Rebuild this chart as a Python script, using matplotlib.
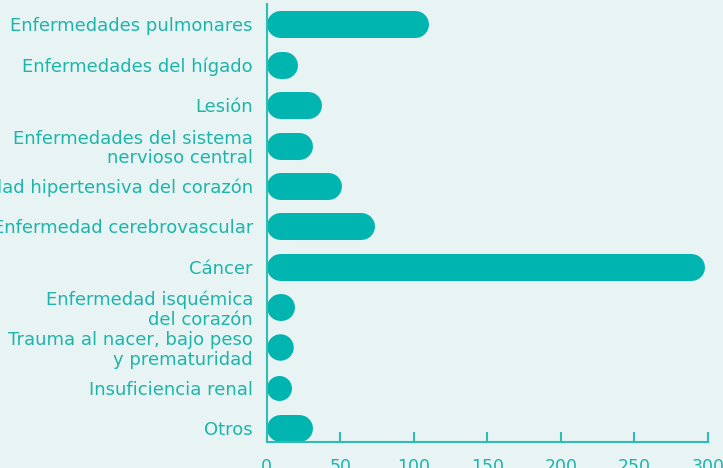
import matplotlib
matplotlib.use("Agg")
import matplotlib.pyplot as plt
import numpy as np

# datos (de arriba a abajo)
causas = [
    "Enfermedades pulmonares",
    "Enfermedades del hígado",
    "Lesión",
    "Enfermedades del sistema\nnervioso central",
    "Enfermedad hipertensiva del corazón",
    "Enfermedad cerebrovascular",
    "Cáncer",
    "Enfermedad isquémica\ndel corazón",
    "Trauma al nacer, bajo peso\ny prematuridad",
    "Insuficiencia renal",
    "Otros",
]
valores = [110, 21, 37, 31, 51, 73, 298, 19, 18, 17, 31]
ticks_x = [0, 50, 100, 150, 200, 250, 300]

bg = "#e8f4f4"
bar_color = "#00b5b0"
txt_color = "#1db4aa"
axis_color = "#2fbdb3"

plt.rcParams["font.family"] = ["DejaVu Sans"]

fig = plt.figure(figsize=(7.23, 4.68), dpi=100, facecolor=bg)
ax = fig.add_axes([0.369, 0.055, 0.610, 0.936], facecolor=bg)

ax.set_xlim(0, 300)
ax.set_ylim(10.35, -0.5)

# barras redondeadas: linea con extremos redondos, recortada el radio del cap
bar_px = 27
lw_pt = bar_px * 72 / fig.dpi
fig.canvas.draw()
x0 = ax.transData.transform((0, 0))[0]
x1 = ax.transData.transform((300, 0))[0]
r = (bar_px / 2) * 300 / (x1 - x0)
y = np.arange(len(causas))
for yi, v in zip(y, valores):
    if v > 2 * r + 0.5:
        ax.plot([r, v - r], [yi, yi], color=bar_color, lw=lw_pt,
                solid_capstyle="round", zorder=3)
    else:
        # barras muy cortas: solo un circulo
        ax.plot([v / 2], [yi], marker="o", ms=lw_pt * min(1, v / (2 * r)),
                color=bar_color, mew=0, zorder=3)

ax.set_yticks(y)
ax.set_yticklabels(causas, fontsize=13, color=txt_color, linespacing=1.1)
ax.set_xticks(ticks_x)
ax.set_xticklabels([str(t) for t in ticks_x], fontsize=12.5, color=txt_color)

ax.tick_params(axis="y", length=0, pad=10)
ax.tick_params(axis="x", direction="in", length=7, width=1.5,
               color=axis_color, pad=11)

for s in ["top", "right"]:
    ax.spines[s].set_visible(False)
for s in ["left", "bottom"]:
    ax.spines[s].set_color(axis_color)
    ax.spines[s].set_linewidth(1.5)
    ax.spines[s].set_zorder(4)

fig.savefig("out.png", dpi=100, facecolor=bg)
